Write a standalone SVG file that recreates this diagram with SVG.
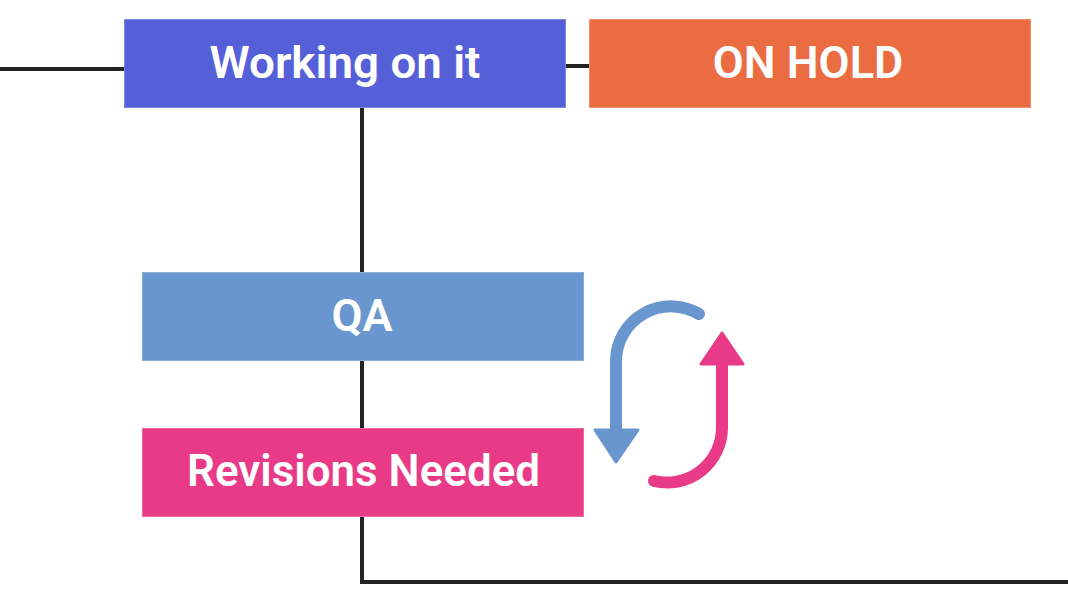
<svg xmlns="http://www.w3.org/2000/svg" width="1068" height="606" viewBox="0 0 1068 606">
<style>
.lbl{font-family:Roboto,"Liberation Sans",sans-serif;font-weight:600;font-size:45px;fill:#fff;text-anchor:middle}
.ln{stroke:#232323;stroke-width:4;fill:none}
</style>
<rect width="1068" height="606" fill="#fff"/>
<g id="connectors">
<path class="ln" d="M0 69 H124"/>
<path class="ln" d="M565 66 H589"/>
<path class="ln" d="M362 107 V272"/>
<path class="ln" d="M362 360 V428"/>
<path class="ln" d="M362 516 V582 H1068"/>
</g>
<g id="working"><rect x="124.5" y="19.5" width="441" height="88" fill="#5560D8" stroke="#7D86E2" stroke-width="1"/><text class="lbl" x="345" y="78" textLength="271" lengthAdjust="spacingAndGlyphs">Working on it</text></g>
<g id="onhold"><rect x="589.5" y="19.5" width="441" height="88" fill="#EC6C42" stroke="#F08E6C" stroke-width="1"/><text class="lbl" x="808" y="78">ON HOLD</text></g>
<g id="qa"><rect x="142.5" y="272.5" width="441" height="88" fill="#6A96D0" stroke="#8AAEDC" stroke-width="1"/><text class="lbl" x="362" y="331">QA</text></g>
<g id="revisions"><rect x="142.5" y="428.5" width="441" height="88" fill="#E93A87" stroke="#EF6AA4" stroke-width="1"/><text class="lbl" x="363.5" y="486" textLength="353" lengthAdjust="spacingAndGlyphs">Revisions Needed</text></g>
<g id="cycle">
<path d="M699 314 A55 55 0 0 0 616 360 V432" stroke="#6A96D0" stroke-width="12" fill="none" stroke-linecap="round"/>
<polygon points="595,430 638,430 616,462" fill="#6A96D0" stroke="#6A96D0" stroke-width="3" stroke-linejoin="round"/>
<path d="M722 362 V428 A55 55 0 0 1 654 481" stroke="#E93A87" stroke-width="12" fill="none" stroke-linecap="round"/>
<polygon points="701,364 743,364 722,333" fill="#E93A87" stroke="#E93A87" stroke-width="3" stroke-linejoin="round"/>
</g>
</svg>
